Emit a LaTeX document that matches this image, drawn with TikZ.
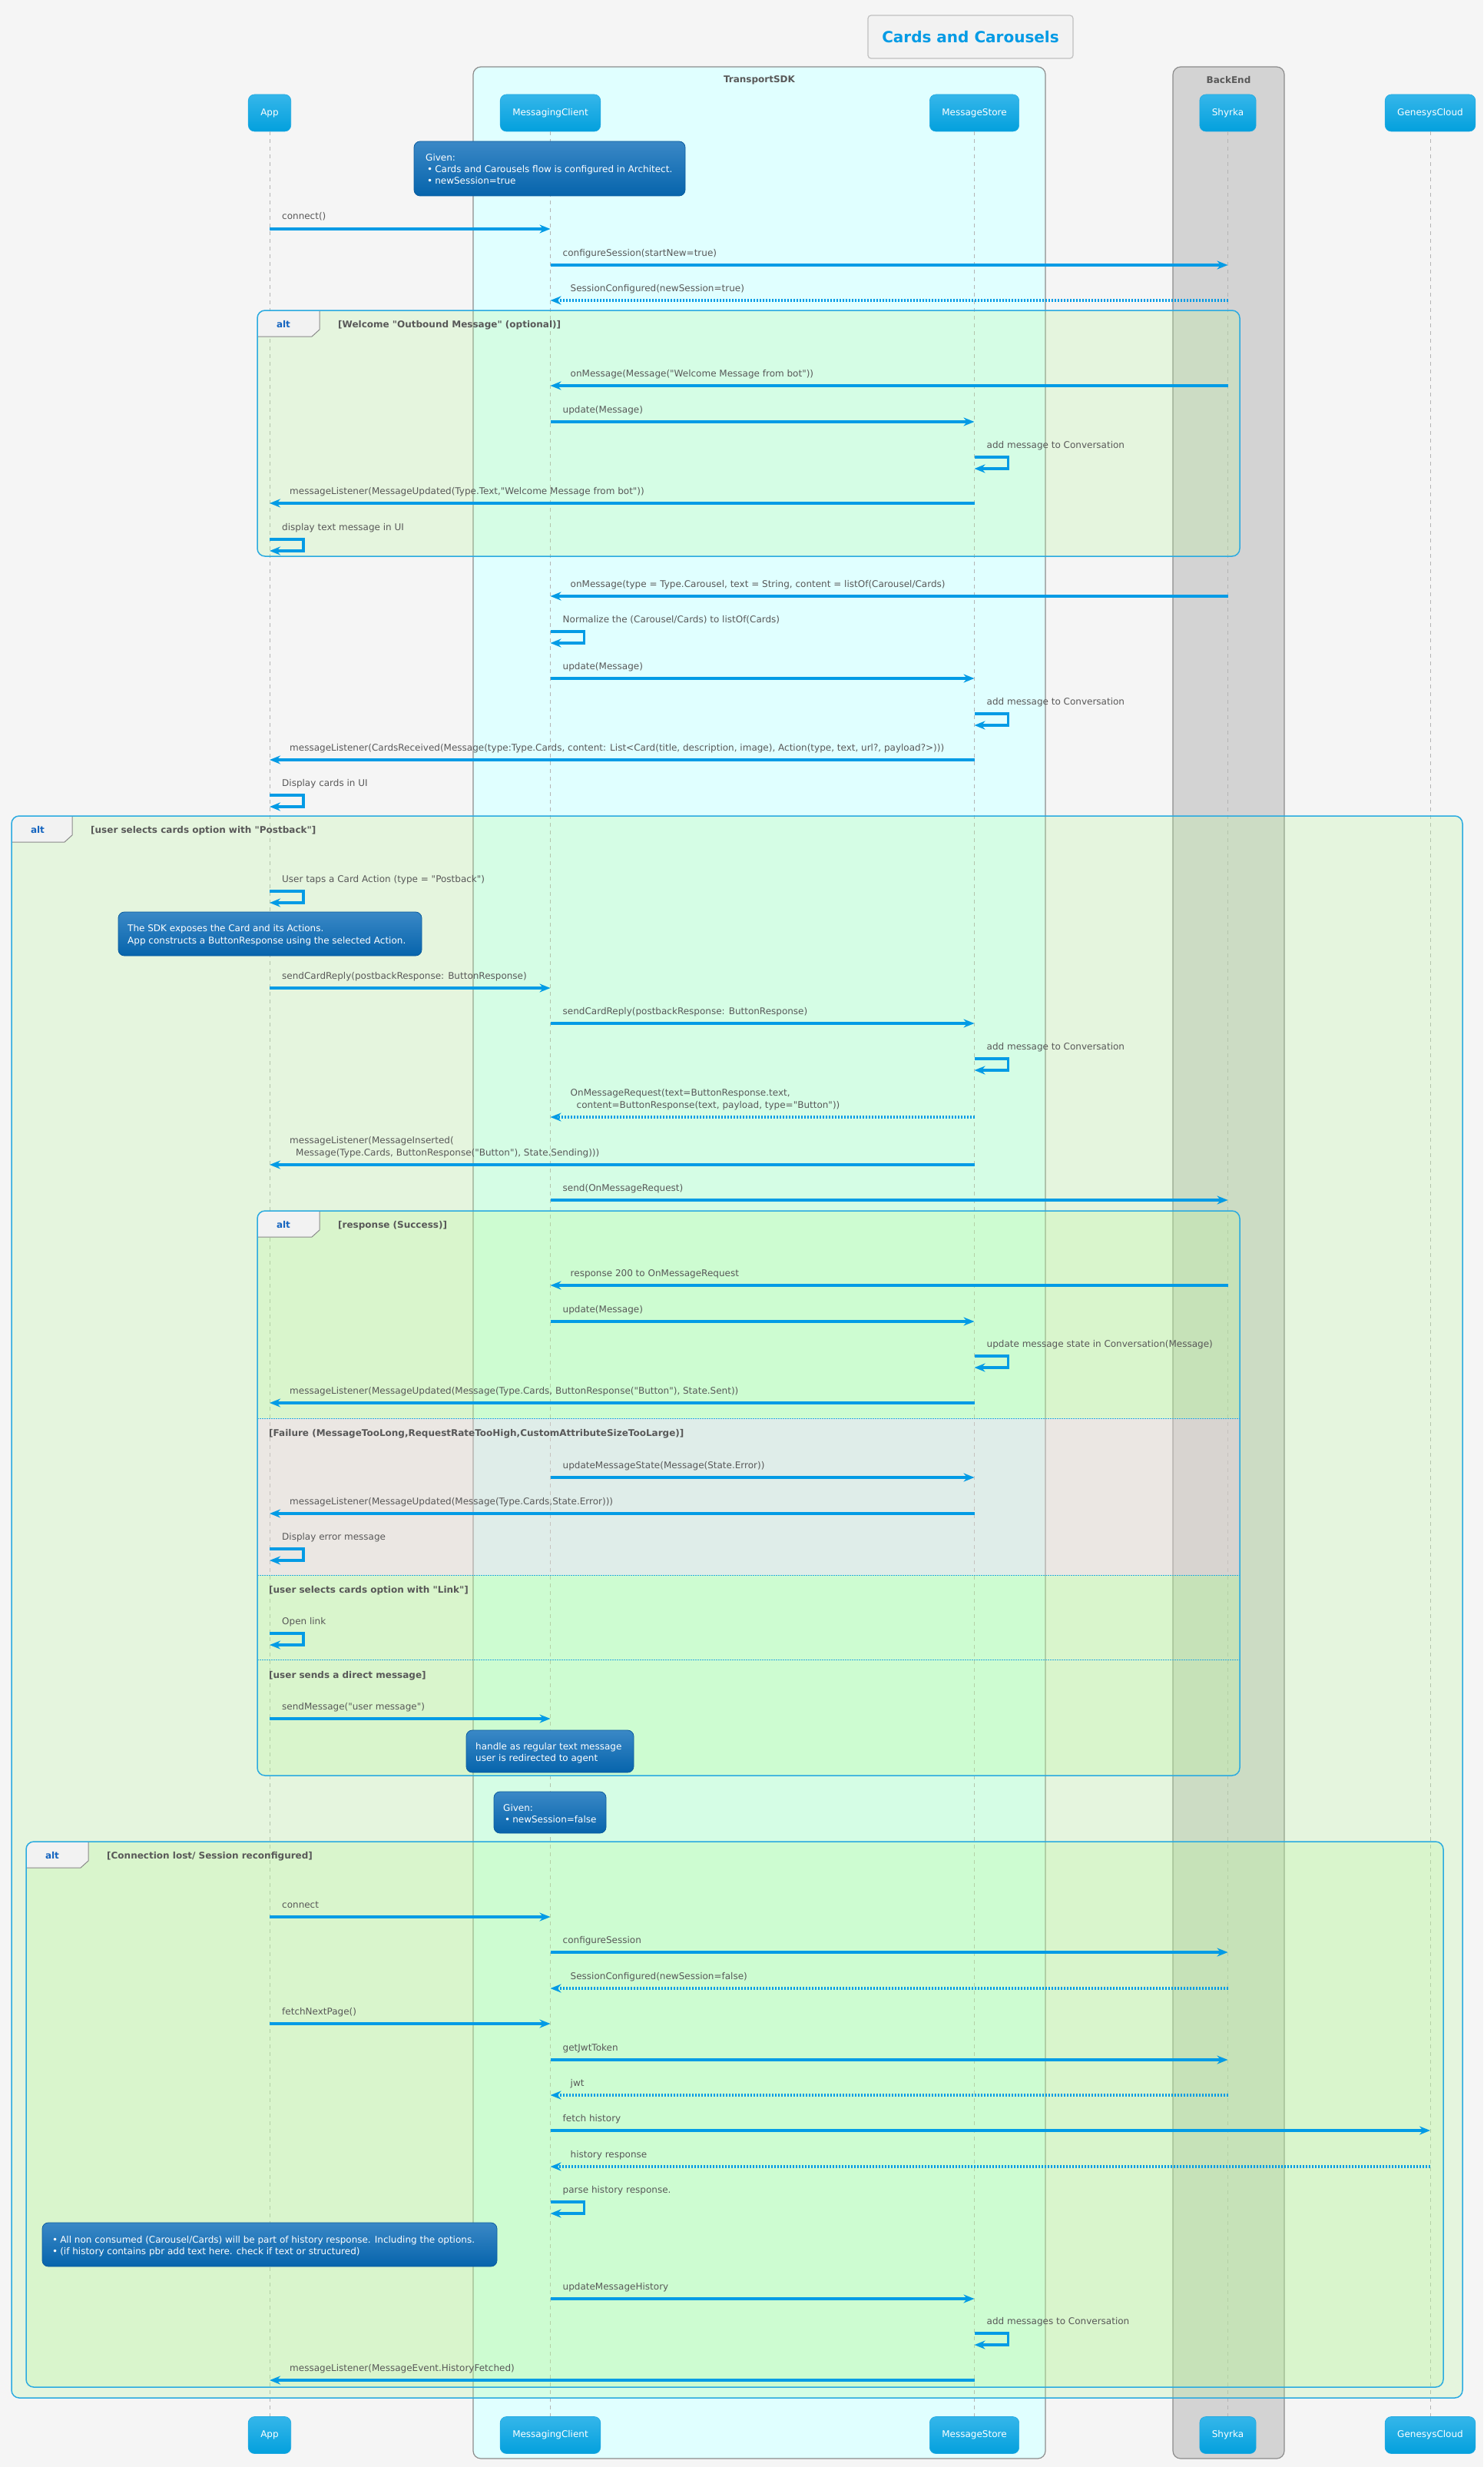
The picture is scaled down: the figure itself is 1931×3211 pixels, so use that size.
\documentclass[tikz,border=0pt]{standalone}
\usepackage{fontspec}
\setmainfont{DejaVu Sans}[Ligatures=TeXOff]
\usetikzlibrary{arrows.meta,calc}

\definecolor{bg}{HTML}{F5F5F5}
\definecolor{arrowBlue}{HTML}{039BE5}
\definecolor{txtGray}{HTML}{585858}
\definecolor{partTop}{HTML}{35B6EA}
\definecolor{partBot}{HTML}{03A0DD}
\definecolor{partLine}{HTML}{1FA8E0}
\definecolor{noteTop}{HTML}{3A88C6}
\definecolor{noteBot}{HTML}{0664AC}
\definecolor{noteLine}{HTML}{0B5C9E}
\definecolor{sdkFill}{HTML}{E0FFFF}
\definecolor{beFill}{HTML}{D3D3D3}
\definecolor{boxLine}{HTML}{8C8C8C}
\definecolor{altGreen}{RGB}{182,249,149}
\definecolor{altPink}{RGB}{254,190,245}
\definecolor{frameBlue}{HTML}{2AAAE0}
\definecolor{tabFill}{HTML}{F2F2F2}
\definecolor{tabLine}{HTML}{8A8A8A}
\definecolor{altWord}{RGB}{21,101,192}
\definecolor{titleBlue}{HTML}{039BE5}
\definecolor{titleLine}{HTML}{C0C0C0}
\definecolor{lifeGray}{HTML}{B4B4B4}

\tikzset{
  part/.style={rounded corners=8pt, top color=partTop, bottom color=partBot,
    draw=partLine, line width=.6pt, text=white, minimum height=48pt,
    inner xsep=16pt, inner ysep=0pt},
  msg/.style={draw=arrowBlue, line width=3.3pt,
    -{Stealth[length=14pt,width=11pt,inset=4.5pt]}},
  ret/.style={msg, dash pattern=on 2pt off 2pt},
  lbl/.style={text=txtGray, inner sep=0pt, anchor=base west},
  life/.style={draw=lifeGray, line width=1pt, dash pattern=on 5pt off 5pt},
  note/.style={rounded corners=8pt, top color=noteTop, bottom color=noteBot,
    draw=noteLine, line width=.8pt, inner sep=0pt},
  notetxt/.style={text=white, inner sep=0pt, anchor=base west},
  altframe/.style={draw=frameBlue, line width=1.5pt, rounded corners=10pt},
  altkw/.style={text=altWord, font=\fontsize{12}{15}\selectfont\bfseries, inner sep=0pt},
  altguard/.style={text=txtGray, font=\fontsize{12}{15}\selectfont\bfseries,
    inner sep=0pt, anchor=base west},
  grp/.style={rounded corners=10pt, line width=1.2pt, draw=boxLine, inner sep=0pt},
  grplbl/.style={text=txtGray, font=\fontsize{12}{15}\selectfont\bfseries, inner sep=0pt},
  greenfill/.style={fill=altGreen, fill opacity=.24},
  pinkfill/.style={fill=altPink, fill opacity=.25},
}

\newcounter{mc}
% rightward call: from, to, y, label
\newcommand\mR[4]{%
  \stepcounter{mc}%
  \coordinate (m\arabic{mc}a) at (#1 |- 0,#3);%
  \coordinate (m\arabic{mc}b) at (#2 |- 0,#3);%
  \draw[msg] (m\arabic{mc}a) -- (m\arabic{mc}b);%
  \node[lbl] (m\arabic{mc}l) at ($(m\arabic{mc}a)+(16,-12)$) {#4};}
% leftward call
\newcommand\mL[4]{%
  \stepcounter{mc}%
  \coordinate (m\arabic{mc}a) at (#1 |- 0,#3);%
  \coordinate (m\arabic{mc}b) at (#2 |- 0,#3);%
  \draw[msg] (m\arabic{mc}a) -- (m\arabic{mc}b);%
  \node[lbl] (m\arabic{mc}l) at ($(m\arabic{mc}b)+(26,-12)$) {#4};}
% leftward reply (dotted)
\newcommand\rL[4]{%
  \stepcounter{mc}%
  \coordinate (m\arabic{mc}a) at (#1 |- 0,#3);%
  \coordinate (m\arabic{mc}b) at (#2 |- 0,#3);%
  \draw[ret] (m\arabic{mc}a) -- (m\arabic{mc}b);%
  \node[lbl] (m\arabic{mc}l) at ($(m\arabic{mc}b)+(26,-12)$) {#4};}
% leftward call with a two-line label
\newcommand\mLL[5]{%
  \stepcounter{mc}%
  \coordinate (m\arabic{mc}a) at (#1 |- 0,#3);%
  \coordinate (m\arabic{mc}b) at (#2 |- 0,#3);%
  \draw[msg] (m\arabic{mc}a) -- (m\arabic{mc}b);%
  \node[lbl] (m\arabic{mc}l) at ($(m\arabic{mc}b)+(26,-28)$) {#4};%
  \node[lbl] (m\arabic{mc}k) at ($(m\arabic{mc}b)+(26,-12)$) {#5};}
% leftward reply with a two-line label
\newcommand\rLL[5]{%
  \stepcounter{mc}%
  \coordinate (m\arabic{mc}a) at (#1 |- 0,#3);%
  \coordinate (m\arabic{mc}b) at (#2 |- 0,#3);%
  \draw[ret] (m\arabic{mc}a) -- (m\arabic{mc}b);%
  \node[lbl] (m\arabic{mc}l) at ($(m\arabic{mc}b)+(26,-28)$) {#4};%
  \node[lbl] (m\arabic{mc}k) at ($(m\arabic{mc}b)+(26,-12)$) {#5};}
% self call: lifeline, top y, label
\newcommand\mS[3]{%
  \stepcounter{mc}%
  \coordinate (m\arabic{mc}a) at (#1 |- 0,#2);%
  \coordinate (m\arabic{mc}b) at ($(m\arabic{mc}a)+(0,15)$);%
  \draw[msg] (m\arabic{mc}a) -- ++(44,0) -- ++(0,15) -- (m\arabic{mc}b);%
  \node[lbl] (m\arabic{mc}l) at ($(m\arabic{mc}a)+(16,-12)$) {#3};}
% alt frame decoration: x0, y0, x1, y1, tab width, guard, name
\newcommand\altdeco[7]{%
  \begin{scope}
    \clip[rounded corners=10pt] (#1,#2) rectangle (#3,#4);
    \fill[tabFill] (#1,#2) -- ++(#5,0) -- ++(0,25) -- ++(-10,9) -- (#1,#2+34) -- cycle;
  \end{scope}
  \draw[tabLine, line width=1pt] (#1+#5,#2) -- ++(0,25) -- ++(-10,9) -- (#1,#2+34);
  \draw[altframe] (#1,#2) rectangle (#3,#4);
  \node[altkw] (#7w) at (#1+34,#2+18) {alt};
  \node[altguard] (#7g) at (#1+#5+24,#2+22) {#6};}

\begin{document}
\begin{tikzpicture}[x=1pt,y=-1pt,font=\fontsize{12}{15}\selectfont]
\useasboundingbox (0,0) rectangle (1931,3211);
\fill[bg] (0,0) rectangle (1931,3211);

% title
\node[draw=titleLine, fill=tabFill, line width=1.2pt, rounded corners=4pt,
  minimum width=267pt, minimum height=56pt, inner sep=0pt,
  font=\fontsize{20}{24}\selectfont\bfseries, text=titleBlue] (title) at (1263.5,48) {Cards and Carousels};

% participant groups
\node[grp, fill=sdkFill, minimum width=745pt, minimum height=3113pt] (sdk) at (988.5,1643.5) {};
\node[grplbl] (sdkL) at ($(sdk.north)+(0,18)$) {TransportSDK};
\node[grp, fill=beFill, minimum width=145pt, minimum height=3113pt] (be) at (1599.5,1643.5) {};
\node[grplbl] (beL) at ($(be.north)+(0,18)$) {BackEnd};

% participants
\node[part] (appT) at (351,147) {App};
\node[part] (mcT) at (716.5,147) {MessagingClient};
\node[part] (msT) at (1268.5,147) {MessageStore};
\node[part] (shyT) at (1598.5,147) {Shyrka};
\node[part] (gcT) at (1862,147) {GenesysCloud};
\node[part] (appB) at (351,3169.5) {App};
\node[part] (mcB) at (716.5,3169.5) {MessagingClient};
\node[part] (msB) at (1268.5,3169.5) {MessageStore};
\node[part] (shyB) at (1598.5,3169.5) {Shyrka};
\node[part] (gcB) at (1862,3169.5) {GenesysCloud};

% lifelines
\draw[life] (appT.south) -- (appB.north);
\draw[life] (mcT.south) -- (mcB.north);
\draw[life] (msT.south) -- (msB.north);
\draw[life] (shyT.south) -- (shyB.north);
\draw[life] (gcT.south) -- (gcB.north);

% fragment backgrounds
\fill[greenfill, rounded corners=10pt] (335,404) rectangle (1614,724);
\fill[greenfill, rounded corners=10pt] (15,1062) rectangle (1904,3121);
\begin{scope}
  \clip[rounded corners=10pt] (335,1576) rectangle (1614,2311);
  \fill[greenfill] (335,1576) rectangle (1614,1846);
  \fill[pinkfill] (335,1846) rectangle (1614,2050);
  \fill[greenfill] (335,2050) rectangle (1614,2311);
\end{scope}
\fill[greenfill, rounded corners=10pt] (34,2397) rectangle (1879,3107);

% fragment frames
\altdeco{335}{404}{1614}{724}{81}{[Welcome "Outbound Message" (optional)]}{alt1}
\altdeco{15}{1062}{1904}{3121}{79}{[user selects cards option with "Postback"]}{alt2}
\altdeco{335}{1576}{1614}{2311}{81}{[response (Success)]}{alt3}
\altdeco{34}{2397}{1879}{3107}{81}{[Connection lost/ Session reconfigured]}{alt4}

% else separators
\draw[frameBlue, line width=1pt, dash pattern=on 1.5pt off 1.5pt] (335,1846) -- (1614,1846);
\draw[frameBlue, line width=1pt, dash pattern=on 1.5pt off 1.5pt] (335,2050) -- (1614,2050);
\draw[frameBlue, line width=1pt, dash pattern=on 1.5pt off 1.5pt] (335,2160) -- (1614,2160);
\node[altguard] (else1) at (350,1869) {[Failure (MessageTooLong,RequestRateTooHigh,CustomAttributeSizeTooLarge)]};
\node[altguard] (else2) at (350,2073) {[user selects cards option with "Link"]};
\node[altguard] (else3) at (350,2184) {[user sends a direct message]};

% notes
\node[note, minimum width=353pt, minimum height=71pt] (n1) at (715.5,219.5) {};
\node[notetxt] (n1a) at (554,210) {Given:};
\node[notetxt] (n1b) at (556,225) {•\hspace{3pt}Cards and Carousels flow is configured in Architect.};
\node[notetxt] (n1c) at (556,240) {•\hspace{3pt}newSession=true};

\node[note, minimum width=395pt, minimum height=57pt] (n2) at (351.5,1215.5) {};
\node[notetxt] (n2a) at (166,1212) {The SDK exposes the Card and its Actions.};
\node[notetxt] (n2b) at (166,1228) {App constructs a ButtonResponse using the selected Action.};

\node[note, minimum width=218pt, minimum height=55pt] (n3) at (716,2279.5) {};
\node[notetxt] (n3a) at (619,2277) {handle as regular text message};
\node[notetxt] (n3b) at (619,2292) {user is redirected to agent};

\node[note, minimum width=146pt, minimum height=54pt] (n4) at (716,2359) {};
\node[notetxt] (n4a) at (655,2357) {Given:};
\node[notetxt] (n4b) at (657,2372) {•\hspace{3pt}newSession=false};

\node[note, minimum width=592pt, minimum height=57pt] (n5) at (351,2921.5) {};
\node[notetxt] (n5a) at (68,2919) {•\hspace{3pt}All non consumed (Carousel/Cards) will be part of history response. Including the options.};
\node[notetxt] (n5b) at (68,2934) {•\hspace{3pt}(if history contains pbr add text here. check if text or structured)};

% messages
\mR{appT}{mcT}{298}{connect()}
\mR{mcT}{shyT}{345}{configureSession(startNew=true)}
\rL{shyT}{mcT}{391}{SessionConfigured(newSession=true)}
\mL{shyT}{mcT}{502}{onMessage(Message("Welcome Message from bot"))}
\mR{mcT}{msT}{549}{update(Message)}
\mS{msT}{595}{add message to Conversation}
\mL{msT}{appT}{655}{messageListener(MessageUpdated(Type.Text,"Welcome Message from bot"))}
\mS{appT}{702}{display text message in UI}
\mL{shyT}{mcT}{776}{onMessage(type = Type.Carousel, text = String, content = listOf(Carousel/Cards)}
\mS{mcT}{822}{Normalize the (Carousel/Cards) to listOf(Cards)}
\mR{mcT}{msT}{883}{update(Message)}
\mS{msT}{929}{add message to Conversation}
\mL{msT}{appT}{989}{messageListener(CardsReceived(Message(type:Type.Cards, content: List<Card(title, description, image), Action(type, text, url?, payload?>)))}
\mS{appT}{1035}{Display cards in UI}
\mS{appT}{1160}{User taps a Card Action (type = "Postback")}
\mR{appT}{mcT}{1286}{sendCardReply(postbackResponse: ButtonResponse)}
\mR{mcT}{msT}{1332}{sendCardReply(postbackResponse: ButtonResponse)}
\mS{msT}{1378}{add message to Conversation}
\rLL{msT}{mcT}{1454}{OnMessageRequest(text=ButtonResponse.text,}{\hspace*{8pt}content=ButtonResponse(text, payload, type="Button"))}
\mLL{msT}{appT}{1516}{messageListener(MessageInserted(}{\hspace*{8pt}Message(Type.Cards, ButtonResponse("Button"), State.Sending)))}
\mR{mcT}{shyT}{1562}{send(OnMessageRequest)}
\mL{shyT}{mcT}{1673}{response 200 to OnMessageRequest}
\mR{mcT}{msT}{1720}{update(Message)}
\mS{msT}{1765}{update message state in Conversation(Message)}
\mL{msT}{appT}{1826}{messageListener(MessageUpdated(Message(Type.Cards, ButtonResponse("Button"), State.Sent))}
\mR{mcT}{msT}{1923}{updateMessageState(Message(State.Error))}
\mL{msT}{appT}{1970}{messageListener(MessageUpdated(Message(Type.Cards,State.Error)))}
\mS{appT}{2016}{Display error message}
\mS{appT}{2126}{Open link}
\mR{appT}{mcT}{2237}{sendMessage("user message")}
\mR{appT}{mcT}{2495}{connect}
\mR{mcT}{shyT}{2541}{configureSession}
\rL{shyT}{mcT}{2588}{SessionConfigured(newSession=false)}
\mR{appT}{mcT}{2634}{fetchNextPage()}
\mR{mcT}{shyT}{2681}{getJwtToken}
\rL{shyT}{mcT}{2727}{jwt}
\mR{mcT}{gcT}{2773}{fetch history}
\rL{gcT}{mcT}{2820}{history response}
\mS{mcT}{2866}{parse history response.}
\mR{mcT}{msT}{2992}{updateMessageHistory}
\mS{msT}{3037}{add messages to Conversation}
\mL{msT}{appT}{3098}{messageListener(MessageEvent.HistoryFetched)}
\end{tikzpicture}
\end{document}
